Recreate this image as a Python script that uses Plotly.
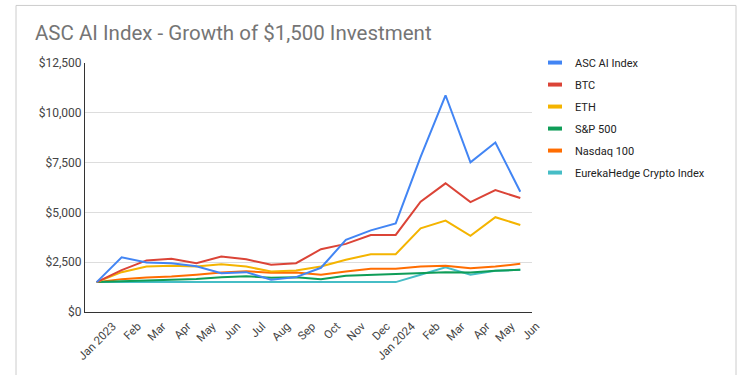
import plotly.graph_objects as go

months = ["Jan 2023", "Feb", "Mar", "Apr", "May", "Jun", "Jul", "Aug", "Sep", "Oct",
          "Nov", "Dec", "Jan 2024", "Feb", "Mar", "Apr", "May", "Jun"]

asc_ai = [1500, 2750, 2480, 2450, 2300, 1950, 2000, 1620, 1750, 2220,
          3620, 4100, 4450, 7790, 10880, 7510, 8510, 6040]
btc = [1500, 2100, 2590, 2670, 2450, 2790, 2650, 2370, 2450, 3150,
       3420, 3860, 3870, 5540, 6460, 5520, 6120, 5720]
eth = [1500, 2000, 2280, 2320, 2280, 2400, 2280, 2030, 2080, 2280,
       2620, 2900, 2900, 4200, 4590, 3820, 4760, 4370]
sp500 = [1500, 1550, 1580, 1620, 1660, 1750, 1800, 1720, 1750, 1650,
         1820, 1870, 1900, 1980, 2000, 1980, 2070, 2120]
nasdaq = [1500, 1650, 1730, 1780, 1870, 1980, 2050, 1970, 1980, 1870,
          2030, 2170, 2170, 2280, 2320, 2200, 2280, 2420]
eureka = [1500, 1500, 1500, 1500, 1500, 1500, 1500, 1500, 1500, 1500,
          1500, 1500, 1500, 1870, 2250, 1870, 2070, 2120]

series = [
    ("ASC AI Index", asc_ai, "#4285F4"),
    ("BTC", btc, "#DB4437"),
    ("ETH", eth, "#F4B400"),
    ("S&P 500", sp500, "#0F9D58"),
    ("Nasdaq 100", nasdaq, "#FF6D01"),
    ("EurekaHedge Crypto Index", eureka, "#46BDC6"),
]

x_idx = list(range(len(months)))
FONT = "Roboto, Arial, sans-serif"

fig = go.Figure()
for name, vals, col in reversed(series):
    fig.add_trace(go.Scatter(x=x_idx, y=vals, mode="lines", name=name,
                             line=dict(color=col, width=2), showlegend=False,
                             hoverinfo="skip"))
for i, (name, vals, col) in enumerate(series):
    fig.add_trace(go.Scatter(x=[None], y=[None], mode="markers", name=name,
                             legendgroup=str(i), hoverinfo="skip",
                             marker=dict(symbol="line-ew", size=10,
                                         line=dict(width=4, color=col))))

fig.update_layout(
    width=750, height=375,
    margin=dict(l=85, r=218, t=63, b=63, autoexpand=False),
    paper_bgcolor="white", plot_bgcolor="white",
    font=dict(family=FONT, size=11, color="#444444"),
    title=dict(text="ASC AI Index - Growth of $1,500 Investment",
               xref="container", x=35/750, xanchor="left",
               yref="container", y=1-33/375, yanchor="middle",
               pad=dict(l=0, r=0, t=0, b=0), automargin=False,
               font=dict(family=FONT, size=20.5, color="#757575")),
    xaxis=dict(range=[-0.47, 17.47], tickmode="array", tickvals=x_idx,
               ticktext=months, tickangle=-45, showgrid=False,
               showline=True, linecolor="#333333", linewidth=1,
               zeroline=False, ticks="", automargin=False,
               ticklabelshift=16, ticklabelstandoff=2,
               tickfont=dict(size=11.5, color="#444444")),
    yaxis=dict(range=[0, 12500], dtick=2500, tickprefix="$", tickformat=",d",
               showgrid=True, gridcolor="#dddddd", gridwidth=1,
               showline=True, linecolor="#333333", linewidth=1,
               zeroline=False, ticks="", automargin=False,
               tickfont=dict(size=12, color="#444444")),
    legend=dict(x=(535-85)/447, xanchor="left", y=1.06, yanchor="top",
                font=dict(size=11, color="#222222"), tracegroupgap=3,
                bgcolor="rgba(0,0,0,0)"),
    shapes=[dict(type="rect", xref="paper", yref="paper",
                 x0=(16-85)/447, x1=(736-85)/447,
                 y0=(312.3-380)/249.6, y1=(312.3-5)/249.6,
                 line=dict(color="#cccccc", width=1), fillcolor="rgba(0,0,0,0)",
                 layer="below")],
)

fig.write_html("out.html", config={"displayModeBar": False},
               post_script="document.body.style.margin='0';document.body.style.padding='0';")
